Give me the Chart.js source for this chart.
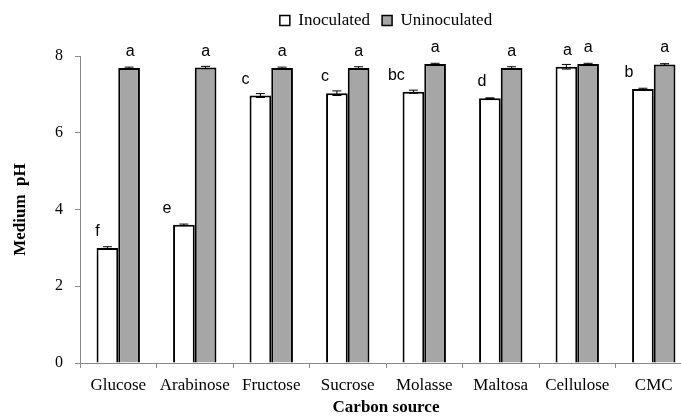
<!DOCTYPE html>
<html>
<head>
<meta charset="utf-8">
<script src="https://cdn.jsdelivr.net/npm/chart.js@4.4.1/dist/chart.umd.min.js"></script>
<style>
    html, body { margin: 0; padding: 0; background: #fff; overflow: hidden; }
    #wrap { width: 700px; height: 416px; }
</style>
</head>
<body>
<div id="wrap"><canvas id="ph-chart" width="700" height="416"></canvas></div>
<script>
// datos
const carbonSources = ['Glucose', 'Arabinose', 'Fructose', 'Sucrose', 'Molasse', 'Maltosa', 'Cellulose', 'CMC'];
const inoculated = [3.0, 3.6, 6.97, 7.03, 7.07, 6.9, 7.72, 7.14];
const uninoculated = [7.69, 7.7, 7.69, 7.69, 7.79, 7.69, 7.79, 7.78];
const inoculatedErr = [0.03, 0.02, 0.05, 0.06, 0.04, 0.01, 0.06, 0.02];
const uninoculatedErr = [0.02, 0.03, 0.02, 0.03, 0.02, 0.03, 0.02, 0.02];
const inoculatedLetters = ['f', 'e', 'c', 'c', 'bc', 'd', 'a', 'b'];
const uninoculatedLetters = ['a', 'a', 'a', 'a', 'a', 'a', 'a', 'a'];
const yTicks = [0, 2, 4, 6, 8];

const SERIF = '"Liberation Serif", "Times New Roman", serif';

/**
 * Espacio extra bajo la leyenda
 */
const legendGap = {
    id: 'legendGap',
    beforeLayout(chart, args, opts) {
        const leg = chart.legend;
        if (leg && !leg._gapPatched) {
            const fit = leg.fit;
            leg.fit = function() {
                fit.call(this);
                this.height += opts.gap;
            };
            leg._gapPatched = true;
        }
    }
};

/**
 * Barras de error (linea vertical + tapas)
 */
const errorBars = {
    id: 'errorBars',
    afterDatasetsDraw(chart, args, opts) {
        const ctx = chart.ctx;
        const y = chart.scales.y;
        ctx.save();
        ctx.strokeStyle = '#000';
        ctx.lineWidth = 1;
        chart.data.datasets.forEach((ds, i) => {
            const meta = chart.getDatasetMeta(i);
            meta.data.forEach((bar, j) => {
                const e = ds.errors[j];
                const top = y.getPixelForValue(ds.data[j] + e);
                const bot = y.getPixelForValue(ds.data[j] - e);
                const w = opts.capWidth / 2;
                ctx.beginPath();
                ctx.moveTo(bar.x, top); ctx.lineTo(bar.x, bot);
                ctx.moveTo(bar.x - w, top); ctx.lineTo(bar.x + w, top);
                ctx.moveTo(bar.x - w, bot); ctx.lineTo(bar.x + w, bot);
                ctx.stroke();
            });
        });
        ctx.restore();
    }
};

/**
 * Letras de significancia sobre las barras
 */
const letterLabels = {
    id: 'letterLabels',
    afterDatasetsDraw(chart, args, opts) {
        const ctx = chart.ctx;
        const y = chart.scales.y;
        ctx.save();
        ctx.fillStyle = '#000';
        ctx.font = opts.font;
        ctx.textAlign = 'center';
        ctx.textBaseline = 'alphabetic';
        chart.data.datasets.forEach((ds, i) => {
            const meta = chart.getDatasetMeta(i);
            const shifts = opts.shifts[i];
            meta.data.forEach((bar, j) => {
                const py = y.getPixelForValue(ds.data[j]) - opts.gap;
                ctx.fillText(ds.letters[j], bar.x + shifts[j], py);
            });
        });
        ctx.restore();
    }
};

new Chart(document.getElementById('ph-chart'), {
    type: 'bar',
    data: {
        labels: carbonSources,
        datasets: [{
            label: 'Inoculated',
            data: inoculated,
            errors: inoculatedErr,
            letters: inoculatedLetters,
            backgroundColor: '#ffffff',
            borderColor: '#000000',
            borderWidth: 2,
            borderSkipped: 'bottom'
        }, {
            label: 'Uninoculated',
            data: uninoculated,
            errors: uninoculatedErr,
            letters: uninoculatedLetters,
            backgroundColor: '#a6a6a6',
            borderColor: '#000000',
            borderWidth: 2,
            borderSkipped: 'bottom'
        }]
    },
    options: {
        responsive: false,
        animation: false,
        categoryPercentage: 0.567,
        barPercentage: 1,
        layout: { padding: { top: 0, right: 8, left: 0, bottom: 0 } },
        plugins: {
            legend: {
                position: 'top',
                fullSize: false,
                labels: {
                    boxWidth: 10,
                    boxHeight: 10,
                    padding: 12,
                    color: '#000',
                    font: { family: SERIF, size: 17 },
                    generateLabels(chart) {
                        return chart.data.datasets.map((ds, i) => ({
                            text: ds.label,
                            fillStyle: ds.backgroundColor,
                            strokeStyle: '#000',
                            lineWidth: 1.5,
                            datasetIndex: i
                        }));
                    }
                }
            },
            legendGap: { gap: 17 },
            tooltip: { enabled: false },
            errorBars: { capWidth: 9 },
            letterLabels: {
                font: '16px "Liberation Sans", Arial, sans-serif',
                gap: 12,
                shifts: [[-10, -17, -15, -12, -17, -8, 1, -14], [1, 0, 0, 0, 0, 0, 0, 0]]
            }
        },
        scales: {
            x: {
                afterFit(scale) { scale.height = 53; },
                grid: { display: true, drawOnChartArea: false, tickLength: 5, color: '#898989', offset: true },
                border: { display: true, color: '#898989', width: 1 },
                ticks: { color: '#000', padding: 7, font: { family: SERIF, size: 17 } },
                title: {
                    display: true,
                    text: 'Carbon source',
                    color: '#000',
                    padding: { top: 0, bottom: -2 },
                    font: { family: SERIF, size: 17, weight: 'bold' }
                }
            },
            y: {
                min: 0,
                max: 8,
                afterFit(scale) { scale.width = 80; },
                afterBuildTicks(scale) { scale.ticks = yTicks.map(v => ({ value: v })); },
                grid: { display: true, drawOnChartArea: false, tickLength: 5, color: '#898989' },
                border: { display: true, color: '#898989', width: 1 },
                ticks: { color: '#000', padding: 12, font: { family: SERIF, size: 16 } },
                title: {
                    display: true,
                    text: 'Medium  pH',
                    color: '#000',
                    padding: { top: 10, bottom: 0 },
                    font: { family: SERIF, size: 17, weight: 'bold' }
                }
            }
        }
    },
    plugins: [legendGap, errorBars, letterLabels]
});
</script>
</body>
</html>
